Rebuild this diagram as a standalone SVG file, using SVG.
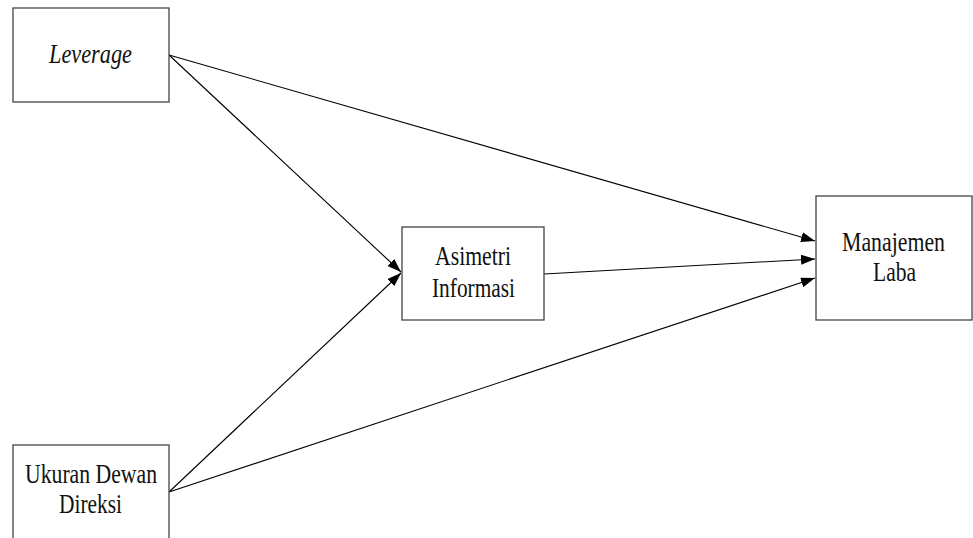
<svg xmlns="http://www.w3.org/2000/svg" width="973" height="538" viewBox="0 0 973 538">
<style>
.box{fill:#fff;stroke:#444;stroke-width:1.3}
.t{font-family:"Liberation Serif","Times New Roman",serif;font-size:26.5px;fill:#111;text-anchor:middle}
.c{stroke:#000;stroke-width:1.1;fill:none;marker-end:url(#ah)}
</style>
<defs>
<marker id="ah" viewBox="0 0 14 10" refX="14" refY="5" markerWidth="14" markerHeight="10" markerUnits="userSpaceOnUse" orient="auto">
<path d="M0,0 L14,5 L0,10 Z" fill="#000"/>
</marker>
</defs>
<rect width="973" height="538" fill="#fff"/>
<g id="connectors">
<line class="c" x1="169" y1="55" x2="815" y2="241"/>
<line class="c" x1="169" y1="55" x2="401" y2="272"/>
<line class="c" x1="544" y1="274" x2="815" y2="259"/>
<line class="c" x1="169" y1="492" x2="401" y2="273"/>
<line class="c" x1="169" y1="492" x2="815" y2="278"/>
</g>
<g id="leverage">
<rect class="box" x="13" y="8" width="156" height="94"/>
<text class="t" x="90.5" y="63" font-style="italic" textLength="83" lengthAdjust="spacingAndGlyphs">Leverage</text>
</g>
<g id="ukuran">
<rect class="box" x="13" y="445" width="156" height="100"/>
<text class="t" x="91" y="483" textLength="132" lengthAdjust="spacingAndGlyphs">Ukuran Dewan</text>
<text class="t" x="90.5" y="513" textLength="63" lengthAdjust="spacingAndGlyphs">Direksi</text>
</g>
<g id="asimetri">
<rect class="box" x="402" y="227" width="142" height="93"/>
<text class="t" x="473" y="265" textLength="76" lengthAdjust="spacingAndGlyphs">Asimetri</text>
<text class="t" x="473.5" y="297" textLength="83" lengthAdjust="spacingAndGlyphs">Informasi</text>
</g>
<g id="manajemen">
<rect class="box" x="816" y="196" width="156" height="124"/>
<text class="t" x="893.5" y="251" textLength="103" lengthAdjust="spacingAndGlyphs">Manajemen</text>
<text class="t" x="894.5" y="281" textLength="43" lengthAdjust="spacingAndGlyphs">Laba</text>
</g>
</svg>
